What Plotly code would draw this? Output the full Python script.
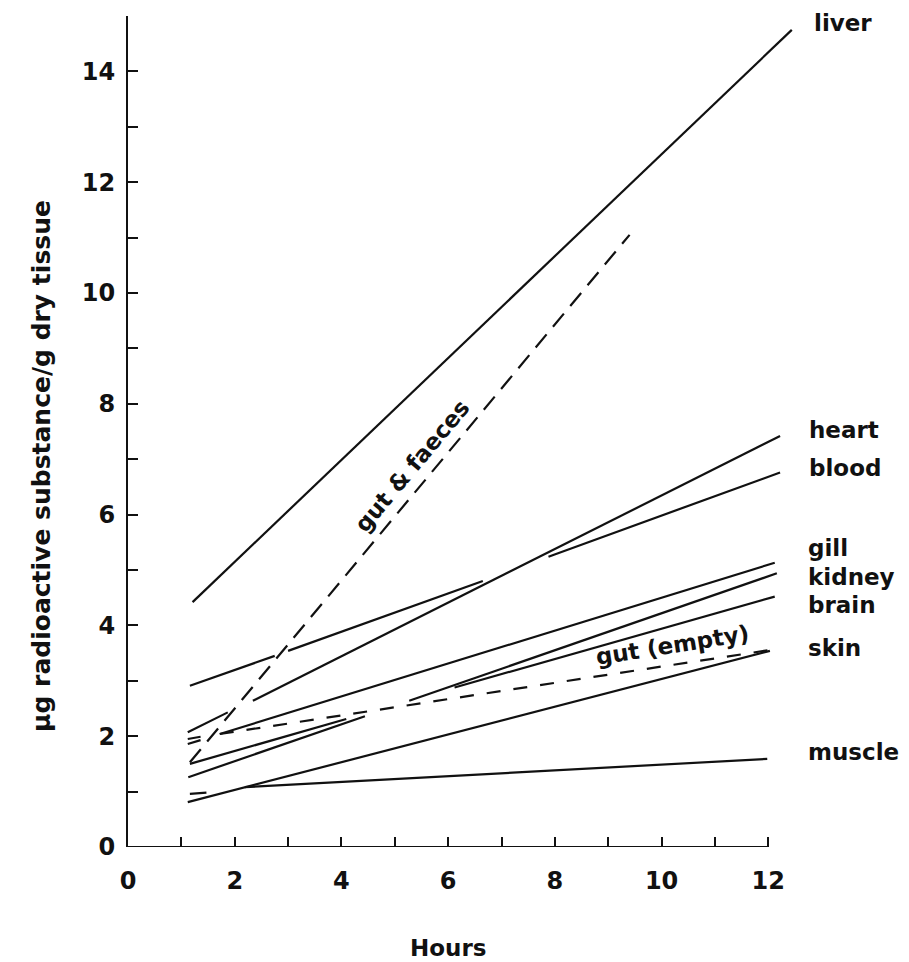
import plotly.graph_objects as go

# ---- data ----
hours_ticks = list(range(0, 13))
conc_ticks = list(range(0, 16))

liver_x = [1.21, 12.44]
liver_y = [4.42, 14.75]

gut_faeces_x = [1.16, 9.40]
gut_faeces_y = [1.53, 11.05]

heart_x = [1.12, 1.87, None, 2.34, 12.22]
heart_y = [2.07, 2.43, None, 2.64, 7.42]

blood_x = [1.16, 2.75, None, 3.00, 6.65, None, 7.88, 12.22]
blood_y = [2.91, 3.45, None, 3.54, 4.80, None, 5.24, 6.76]

gill_x = [1.12, 1.36, None, 1.72, 12.12]
gill_y = [1.86, 1.93, None, 2.04, 5.13]

gut_empty_x = [1.12, 1.36, None, 1.72, 12.06]
gut_empty_y = [1.95, 1.99, None, 2.04, 3.56]

kidney_x = [1.13, 4.44, None, 5.27, 12.16]
kidney_y = [1.26, 2.36, None, 2.64, 4.94]

brain_x = [1.16, 4.09, None, 6.12, 12.12]
brain_y = [1.50, 2.31, None, 2.88, 4.52]

skin_x = [1.12, 12.03]
skin_y = [0.81, 3.54]

muscle_x = [1.16, 1.47, None, 2.19, 11.98]
muscle_y = [0.96, 0.98, None, 1.08, 1.59]

label_names = ["liver", "heart", "blood", "gill", "kidney", "brain", "skin", "muscle"]
label_xpaper = [1.025, 1.018, 1.018, 1.016, 1.016, 1.016, 1.016, 1.016]
label_y = [14.87, 7.53, 6.84, 5.40, 4.87, 4.37, 3.59, 1.71]

# ---- figure ----
FONT = "DejaVu Sans"
INK = "#111111"

fig = go.Figure()

solid_series = [
    ("liver", liver_x, liver_y),
    ("heart", heart_x, heart_y),
    ("blood", blood_x, blood_y),
    ("gill", gill_x, gill_y),
    ("kidney", kidney_x, kidney_y),
    ("brain", brain_x, brain_y),
    ("skin", skin_x, skin_y),
    ("muscle", muscle_x, muscle_y),
]
for name, xs, ys in solid_series:
    fig.add_trace(go.Scatter(x=xs, y=ys, mode="lines", name=name,
                             line=dict(color=INK, width=2.2),
                             connectgaps=False, hoverinfo="skip"))

fig.add_trace(go.Scatter(x=gut_faeces_x, y=gut_faeces_y, mode="lines",
                         name="gut & faeces",
                         line=dict(color=INK, width=2.2, dash="17px,10px"),
                         hoverinfo="skip"))
fig.add_trace(go.Scatter(x=gut_empty_x, y=gut_empty_y, mode="lines",
                         name="gut (empty)", connectgaps=False,
                         line=dict(color=INK, width=2.2, dash="14px,13px"),
                         hoverinfo="skip"))

# x-axis baseline from 0 to 12 (axis range is a bit wider so line ends are not clipped)
fig.add_shape(type="line", xref="x", yref="y", x0=0, x1=12, y0=0, y1=0,
              line=dict(color=INK, width=2.2))

annotations = []
for n, lx, ly in zip(label_names, label_xpaper, label_y):
    annotations.append(dict(x=lx, y=ly, xref="paper", yref="y", text=n,
                            showarrow=False, xanchor="left", yanchor="middle",
                            font=dict(family=FONT, size=23, color=INK, weight="bold")))

annotations.append(dict(x=5.32, y=6.88, xref="x", yref="y", text="gut & faeces",
                        showarrow=False, textangle=-50,
                        font=dict(family=FONT, size=23, color=INK, weight="bold")))
annotations.append(dict(x=10.21, y=3.64, xref="x", yref="y", text="gut (empty)",
                        showarrow=False, textangle=-9,
                        font=dict(family=FONT, size=23, color=INK, weight="bold")))
annotations.append(dict(x=6, y=-0.1215, xref="x", yref="paper", text="Hours",
                        showarrow=False, xanchor="center", yanchor="middle",
                        font=dict(family=FONT, size=23, color=INK, weight="bold")))
annotations.append(dict(x=-0.129, y=0.4585, xref="paper", yref="paper",
                        text="µg radioactive substance/g dry tissue",
                        showarrow=False, textangle=-90, xanchor="center", yanchor="middle",
                        font=dict(family=FONT, size=25, color=INK, weight="bold")))

# page body has an 8px margin, so the figure is shifted by (8, 8) in the window
fig.update_layout(
    width=901, height=954,
    margin=dict(l=120, r=114, t=8, b=115),
    paper_bgcolor="white", plot_bgcolor="white",
    showlegend=False,
    annotations=annotations,
)

fig.update_xaxes(
    range=[0, 12.5], showgrid=False, zeroline=False, showline=False,
    tickmode="array", tickvals=hours_ticks,
    ticktext=[str(v) if v % 2 == 0 else "" for v in hours_ticks],
    ticks="inside", ticklen=10, tickwidth=2, tickcolor=INK,
    ticklabelstandoff=17,
    tickfont=dict(family=FONT, size=24, color=INK, weight="bold"),
)
fig.update_yaxes(
    range=[0, 15], showgrid=False, zeroline=False,
    showline=True, linecolor=INK, linewidth=2.2,
    tickmode="array", tickvals=conc_ticks,
    ticktext=[str(v) if v % 2 == 0 else "" for v in conc_ticks],
    ticks="inside", ticklen=10, tickwidth=2, tickcolor=INK,
    ticklabelstandoff=6,
    tickfont=dict(family=FONT, size=24, color=INK, weight="bold"),
)

fig.write_html("out.html")
